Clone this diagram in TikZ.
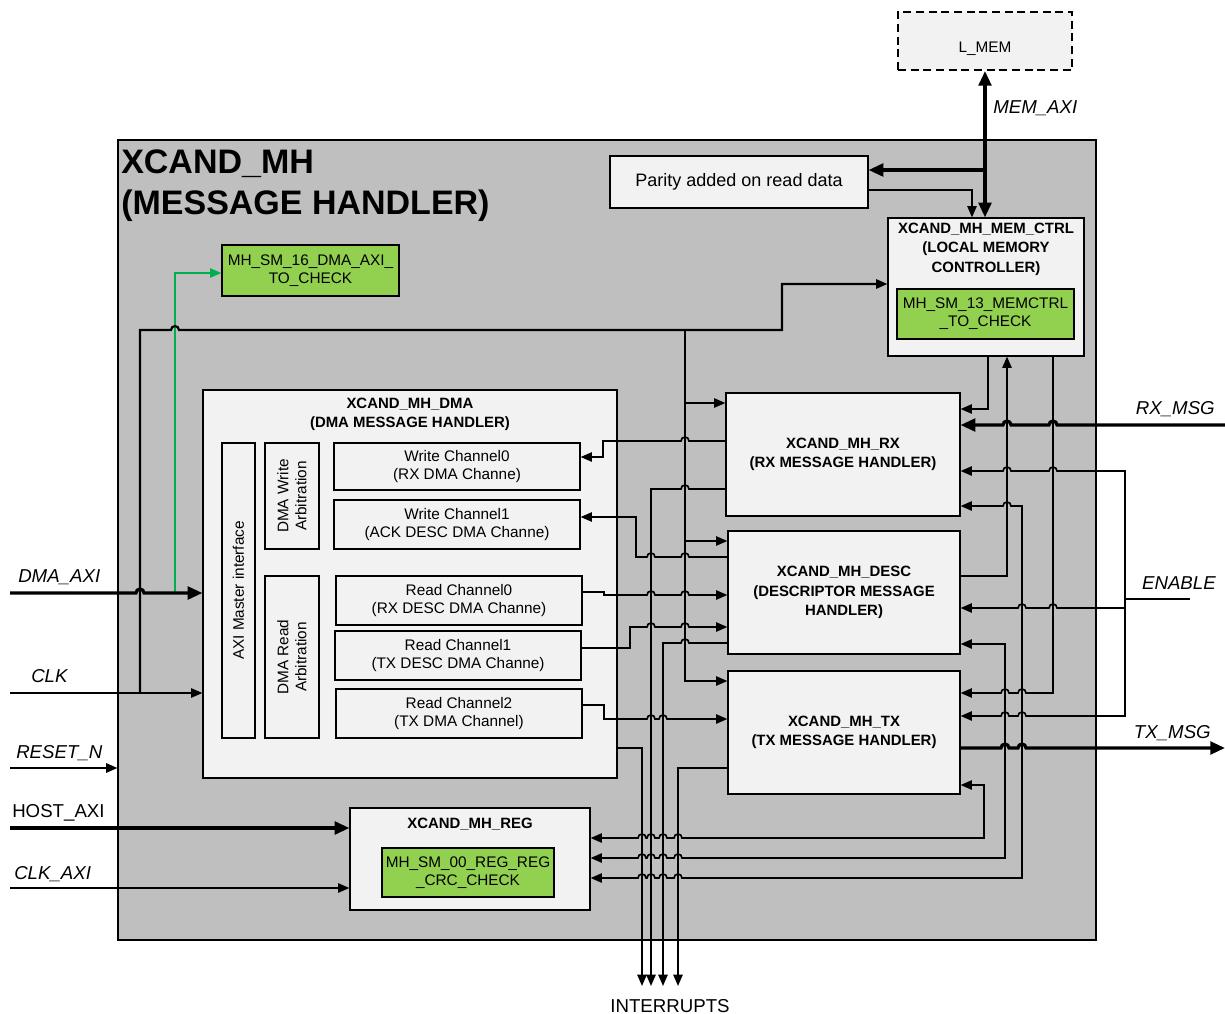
\documentclass[tikz,border=0pt]{standalone}
\usepackage{fontspec}
\setmainfont{Liberation Sans}
\usetikzlibrary{arrows.meta, positioning}
\definecolor{mhgray}{HTML}{BFBFBF}
\definecolor{boxfill}{HTML}{F2F2F2}
\definecolor{smgreen}{HTML}{92D050}
\definecolor{chkgreen}{HTML}{00B050}
\tikzset{
  boxsize/.style 2 args = {minimum width=#1*0.75pt, minimum height=#2*0.75pt},
  block/.style = {rectangle, draw, fill=boxfill, line width=0.9pt, inner sep=1pt, align=center, font=\fontsize{11.5}{13.5}\selectfont},
  hblock/.style = {block, font=\fontsize{11.2}{14.5}\selectfont\bfseries},
  smblock/.style = {block, fill=smgreen},
  hdr/.style = {inner sep=0pt, align=center, font=\fontsize{11.2}{14.5}\selectfont\bfseries},
  sig/.style = {inner sep=0pt, font=\fontsize{14}{16}\selectfont\itshape},
  wire/.style = {draw, line width=1.25pt, >={Triangle[length=8.5pt,width=7pt]}},
  arrow/.style = {wire, ->},
  bus/.style = {draw, line width=2.4pt, >={Triangle[length=11pt,width=9.5pt]}, ->},
}
% hop over a vertical wire at x=#1, y=#2 (going left / going right)
\newcommand{\hopL}[2]{-- (#1+4,#2) arc[start angle=0,end angle=180,radius=3pt]}
\newcommand{\hopR}[2]{-- (#1-4,#2) arc[start angle=180,end angle=0,radius=3pt]}

\begin{document}
\begin{tikzpicture}[x=0.75pt, y=-0.75pt]
  \useasboundingbox (0,0) rectangle (1225,1014);

  % message handler
  \node[draw, fill=mhgray, line width=0.8pt, boxsize={978}{800}] (mh) at (607,540) {};
  \node[anchor=north west, inner sep=0pt, align=left, font=\fontsize{25.5}{31}\selectfont\bfseries] (mhT) at (121,149) {XCAND\_MH\\(MESSAGE HANDLER)};

  % local memory
  \node[block, line width=1.5pt, dash pattern=on 6pt off 3.5pt, boxsize={174}{58}, text height=19pt, text depth=2pt] (lmem) at (985,41) {L\_MEM};
  \node[block, font=\fontsize{13.5}{16}\selectfont, boxsize={258}{52}] (parity) at (739,182) {Parity added on read data};
  \node[block, boxsize={196}{138}] (memctrl) at (986,287) {};
  \node[hdr, below=4pt of memctrl.north] (memctrlT) {XCAND\_MH\_MEM\_CTRL\\(LOCAL MEMORY\\CONTROLLER)};
  \node[smblock, boxsize={177}{50}] (sm13) at (985.5,314) {MH\_SM\_13\_MEMCTRL\\\_TO\_CHECK};
  \node[smblock, boxsize={177}{51}] (sm16) at (310.5,270.5) {MH\_SM\_16\_DMA\_AXI\_\\TO\_CHECK};

  % dma
  \node[block, boxsize={414}{388}] (dma) at (410,584) {};
  \node[hdr, below=6pt of dma.north] (dmaT) {XCAND\_MH\_DMA\\(DMA MESSAGE HANDLER)};
  \node[block, rotate=90, boxsize={295}{33}] (axi) at (238.5,590.5) {AXI Master interface};
  \node[block, rotate=90, boxsize={106}{54}] (warb) at (292,496) {DMA Write\\Arbitration};
  \node[block, rotate=90, boxsize={162}{54}] (rarb) at (292,657) {DMA Read\\Arbitration};
  \node[block, boxsize={246}{47}] (wc0) at (457,466.5) {Write Channel0\\(RX DMA Channe)};
  \node[block, boxsize={246}{49}] (wc1) at (457,524.5) {Write Channel1\\(ACK DESC DMA Channe)};
  \node[block, boxsize={246}{49}] (rc0) at (459,600.5) {Read Channel0\\(RX DESC DMA Channe)};
  \node[block, boxsize={246}{49}] (rc1) at (458,655.5) {Read Channel1\\(TX DESC DMA Channe)};
  \node[block, boxsize={246}{49}] (rc2) at (459,713.5) {Read Channel2\\(TX DMA Channel)};

  % handlers
  \node[hblock, boxsize={234}{123}] (rx) at (843,454.5) {XCAND\_MH\_RX\\(RX MESSAGE HANDLER)};
  \node[hblock, boxsize={232}{123}] (desc) at (844,592.5) {XCAND\_MH\_DESC\\(DESCRIPTOR MESSAGE\\HANDLER)};
  \node[hblock, boxsize={232}{123}] (tx) at (844,732.5) {XCAND\_MH\_TX\\(TX MESSAGE HANDLER)};

  % registers
  \node[block, boxsize={240}{102}] (reg) at (470,859) {};
  \node[hdr, below=8pt of reg.north] (regT) {XCAND\_MH\_REG};
  \node[smblock, boxsize={172}{49}] (sm00) at (468,872.5) {MH\_SM\_00\_REG\_REG\\\_CRC\_CHECK};

  % ports
  \coordinate (dmaaxi) at (10,593);
  \coordinate (clk) at (10,693);
  \coordinate (resetn) at (10,768);
  \coordinate (hostaxi) at (10,828);
  \coordinate (clkaxi) at (10,888);
  \coordinate (rxmsg) at (1225,425);
  \coordinate (txmsg) at (1225,748);
  \coordinate (enable) at (1190,599);
  \coordinate (irq) at (0,986);

  \node[sig, anchor=west] (dmaaxiL) at (18,577) {DMA\_AXI};
  \node[sig, anchor=west] (clkL) at (31,676) {CLK};
  \node[sig, anchor=west] (resetnL) at (16,753) {RESET\_N};
  \node[sig, anchor=west, font=\fontsize{14}{16}\selectfont] (hostaxiL) at (12,813) {HOST\_AXI};
  \node[sig, anchor=west] (clkaxiL) at (14,874) {CLK\_AXI};
  \node[sig, anchor=west] (memaxiL) at (993,108) {MEM\_AXI};
  \node[sig, anchor=east] (rxmsgL) at (1215,409) {RX\_MSG};
  \node[sig, anchor=east] (txmsgL) at (1211,733) {TX\_MSG};
  \node[sig, anchor=east] (enableL) at (1216,583) {ENABLE};
  \node[font=\fontsize{14}{16}\selectfont] (irqL) at (670,1006) {INTERRUPTS};

  % memory side
  \draw[bus, <->] (lmem.south) -- (memctrl.north -| lmem.south);
  \draw[bus] (lmem.south |- 0,170) -- (parity.east |- 0,170);
  \draw[arrow] (parity.east |- 0,190) -| (memctrl.north -| 972,0);

  % inputs on the left
  \draw[chkgreen, line width=1.1pt, -{Triangle[length=8.5pt,width=7pt]}] (175,593) -- (175,273) -- (sm16.west |- 0,273);
  \draw[bus] (dmaaxi) \hopR{140}{593} -- (dma.west |- dmaaxi);
  \draw[arrow] (clk) -- (dma.west |- clk);
  \draw[arrow, line width=1.6pt] (140,693) -- (140,330) \hopR{175}{330} -- (782,330) -- (782,284) -- (memctrl.west |- 0,284);
  \draw[arrow] (685,330) -- (685,681) -- (tx.west |- 0,681);
  \draw[arrow] (685,403) -- (rx.west |- 0,403);
  \draw[arrow] (685,541) -- (desc.west |- 0,541);
  \draw[arrow] (resetn) -- (mh.west |- resetn);
  \draw[bus] (hostaxi) -- (reg.west |- hostaxi);
  \draw[arrow] (clkaxi) -- (reg.west |- clkaxi);

  % handlers <-> dma channels
  \draw[arrow] (rx.west |- 0,441) \hopL{685}{441} -- (603,441) -- (603,457) -- (wc0.east |- 0,457);
  \draw[arrow] (desc.west |- 0,557) \hopL{685}{557} \hopL{651}{557} -- (636,557) -- (636,517) -- (wc1.east |- 0,517);
  \draw[arrow] (rc0.east |- 0,592) -- (604,592) -- (604,595) \hopR{651}{595} \hopR{685}{595} -- (desc.west |- 0,595);
  \draw[arrow] (rc1.east |- 0,648) -- (630,648) -- (630,627) \hopR{651}{627} \hopR{685}{627} -- (desc.west |- 0,627);
  \draw[arrow] (rc2.east |- 0,705) -- (604,705) -- (604,719) \hopR{651}{719} \hopR{663}{719} -- (tx.west |- 0,719);

  % interrupts
  \draw[arrow] (dma.east |- 0,748) -- (642,748) -- (642,0 |- irq);
  \draw[arrow] (rx.west |- 0,489) \hopL{685}{489} -- (651,489) -- (651,0 |- irq);
  \draw[arrow] (desc.west |- 0,643) \hopL{685}{643} -- (663,643) -- (663,0 |- irq);
  \draw[arrow] (tx.west |- 0,768) -- (678,768) -- (678,0 |- irq);

  % memory controller <-> handlers
  \draw[arrow] (memctrl.south -| 988,0) -- (988,409) -- (rx.east |- 0,409);
  \draw[arrow] (desc.east |- 0,576) -- (1007,576) -- (memctrl.south -| 1007,0);
  \draw[arrow] (memctrl.south -| 1053,0) -- (1053,693) \hopL{1022}{693} \hopL{1005}{693} -- (tx.east |- 0,693);

  % messages and enable
  \draw[bus] (rxmsg) \hopL{1053}{425} \hopL{1007}{425} -- (rx.east |- rxmsg);
  \draw[bus] (tx.east |- txmsg) \hopR{1005}{748} \hopR{1022}{748} -- (txmsg);
  \draw[wire] (enable) -- (1125,599);
  \draw[arrow] (1125,599) -- (1125,471) \hopL{1053}{471} \hopL{1007}{471} -- (rx.east |- 0,471);
  \draw[arrow] (1125,608) \hopL{1053}{608} \hopL{1022}{608} -- (desc.east |- 0,608);
  \draw[arrow] (1125,599) -- (1125,716) \hopL{1022}{716} \hopL{1005}{716} -- (tx.east |- 0,716);

  % handlers <-> registers
  \draw[wire, <->] (rx.east |- 0,506) \hopR{1007}{506} -- (1022,506) -- (1022,878) \hopL{678}{878} \hopL{663}{878} \hopL{651}{878} \hopL{642}{878} -- (reg.east |- 0,878);
  \draw[wire, <->] (desc.east |- 0,644) -- (1005,644) -- (1005,858) \hopL{678}{858} \hopL{663}{858} \hopL{651}{858} \hopL{642}{858} -- (reg.east |- 0,858);
  \draw[wire, <->] (tx.east |- 0,785) -- (984,785) -- (984,838) \hopL{678}{838} \hopL{663}{838} \hopL{651}{838} \hopL{642}{838} -- (reg.east |- 0,838);
\end{tikzpicture}
\end{document}
